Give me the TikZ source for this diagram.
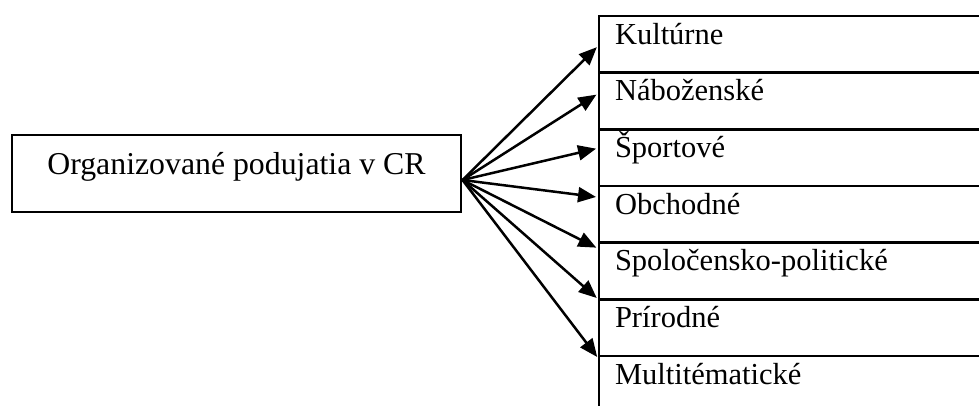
\documentclass[tikz,border=0pt]{standalone}
\usepackage{fontspec}
\setmainfont{Liberation Serif}
\usetikzlibrary{arrows.meta,positioning}
\begin{document}
\begin{tikzpicture}[x=1pt,y=-1pt,
  font=\fontsize{30.5}{36}\selectfont,
  mainbox/.style={draw, line width=1.6pt, rectangle, inner sep=0pt, outer sep=0pt,
    font=\fontsize{31.8}{38}\selectfont,
    minimum width=449pt, text height=39pt, text depth=38pt},
  rowbox/.style={draw, line width=2.5pt, rectangle, inner xsep=16pt, inner ysep=0pt, outer sep=0pt,
    text width=380pt, align=left, text height=28pt, text depth=28.67pt},
  link/.style={line width=2.5pt, -{Triangle[length=18pt,width=15pt]}, shorten >=3pt}
]
\useasboundingbox (0,0) rectangle (979,405);
\clip (0,0) rectangle (979,405);
\node[mainbox, anchor=north west] (main) at (12,135) {Organizované podujatia v CR};
\coordinate (hub) at ([xshift=1.5pt,yshift=-6.5pt]main.east);
\node[rowbox, anchor=north west] (r1) at (599,16) {Kultúrne};
\node[rowbox, below=0pt of r1] (r2) {Náboženské};
\node[rowbox, below=0pt of r2] (r3) {Športové};
\node[rowbox, below=0pt of r3] (r4) {Obchodné};
\node[rowbox, below=0pt of r4] (r5) {Spoločensko-politické};
\node[rowbox, below=0pt of r5] (r6) {Prírodné};
\node[rowbox, below=0pt of r6] (r7) {Multitématické};
\draw[link] (hub) -- ([yshift=-0.7pt]r1.west);
\draw[link] (hub) -- ([yshift=8pt]r2.west);
\draw[link] (hub) -- ([yshift=9.7pt]r3.west);
\draw[link] (hub) -- ([yshift=17pt]r4.west);
\draw[link] (hub) -- ([yshift=22pt]r5.west);
\draw[link] (hub) -- ([yshift=27.7pt]r6.west);
\draw[link] (hub) -- ([yshift=25pt]r7.west);
\end{tikzpicture}
\end{document}
